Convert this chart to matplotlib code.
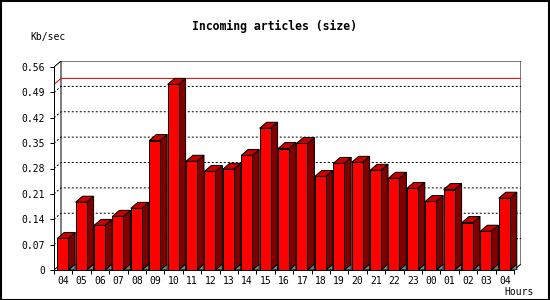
import numpy as np
import matplotlib.pyplot as plt
from matplotlib.patches import Polygon, Rectangle

hours = ["04", "05", "06", "07", "08", "09", "10", "11", "12", "13", "14", "15", "16",
         "17", "18", "19", "20", "21", "22", "23", "00", "01", "02", "03", "04"]
kbsec = [0.087, 0.187, 0.123, 0.148, 0.170, 0.357, 0.512, 0.300, 0.272, 0.278, 0.316,
         0.391, 0.335, 0.349, 0.258, 0.294, 0.297, 0.275, 0.253, 0.225, 0.189, 0.222,
         0.131, 0.107, 0.198]
yticks = [0, 0.07, 0.14, 0.21, 0.28, 0.35, 0.42, 0.49, 0.56]
ymax_line = 0.512

W, H = 550, 300
fig = plt.figure(figsize=(W / 100, H / 100), dpi=100)
fig.patch.set_facecolor("white")

# front plane 54..514 px, back plane shifted 7px right and 6px up
n = len(hours)
px_x = 460 / n
px_y = 203 / 0.56
ddx = 7 / px_x
ddy = 6 / px_y
ax = fig.add_axes([54 / W, 30 / H, 467 / W, 209 / H])
ax.set_xlim(0, n + ddx)
ax.set_ylim(0, 0.56 + ddy)
ax.patch.set_alpha(0)

lw = 0.72
mono = "DejaVu Sans Mono"

# grid lines (dotted) and back frame
for v in yticks[1:-1]:
    ax.plot([0, ddx, n + ddx], [v, v + ddy, v + ddy], color="black", lw=lw,
            dashes=(2, 2), zorder=1)
ax.plot([0, ddx, ddx], [0.56, 0.56 + ddy, ddy], color="black", lw=lw, zorder=1)
ax.plot([ddx, n + ddx, n + ddx, n], [0.56 + ddy, 0.56 + ddy, ddy, 0], color="black",
        lw=lw, zorder=1)
ax.plot([0, ddx], [0, ddy], color="black", lw=lw, zorder=1)
ax.plot([0, ddx, n + ddx], [ymax_line, ymax_line + ddy, ymax_line + ddy],
        color="#e00000", lw=lw, zorder=1.5)

# 3d bars
off = 3.2 / px_x
bw = 11 / px_x
for i, v in enumerate(kbsec):
    x0 = i + off
    x1 = x0 + bw
    z = 2 + i * 0.01
    ax.add_patch(Polygon([[x1, 0], [x1 + ddx, ddy], [x1 + ddx, 0]], closed=True,
                         facecolor="#808080", edgecolor="black", lw=lw, zorder=z))
    ax.add_patch(Polygon([[x1, 0], [x1 + ddx, ddy], [x1 + ddx, v + ddy], [x1, v]],
                         closed=True, facecolor="#800000", edgecolor="black", lw=lw, zorder=z))
    ax.add_patch(Polygon([[x0, v], [x0 + ddx, v + ddy], [x1 + ddx, v + ddy], [x1, v]],
                         closed=True, facecolor="#c80000", edgecolor="black", lw=lw, zorder=z))
    ax.add_patch(Rectangle((x0, 0), bw, v, facecolor="#ff0000", edgecolor="black",
                           lw=lw, zorder=z + 0.001))

for s in ["top", "right"]:
    ax.spines[s].set_visible(False)
ax.spines["left"].set_bounds(0, 0.56)
ax.spines["bottom"].set_bounds(0, n)
ax.spines["left"].set_linewidth(lw)
ax.spines["bottom"].set_linewidth(lw)
ax.spines["left"].set_zorder(5)
ax.spines["bottom"].set_zorder(5)

ax.set_yticks(yticks)
ax.set_yticklabels([("%g" % t) for t in yticks], family=mono, fontsize=7)
ax.set_xticks(np.arange(n + 1))
ax.set_xticklabels([])
ax.set_xticks(np.arange(n) + 0.5, minor=True)
ax.set_xticklabels(hours, minor=True, family=mono, fontsize=7)
ax.tick_params(axis="y", length=3, width=lw, pad=3.5)
ax.tick_params(axis="x", which="major", length=3, width=lw)
ax.tick_params(axis="x", which="minor", length=0, pad=4.5)

fig.text(274 / W, 1 - 26 / H, "Incoming articles (size)", family=mono, weight="bold",
         fontsize=8.3, ha="center", va="center")
fig.text(30 / W, 1 - 37 / H, "Kb/sec", family=mono, fontsize=7, ha="left", va="center")
fig.text(534 / W, 1 - 292 / H, "Hours", family=mono, fontsize=7, ha="right", va="center")

fig.patches.append(Rectangle((0.5 / W, 0.5 / H), 1 - 1.5 / W, 1 - 1.5 / H,
                             transform=fig.transFigure, fill=False,
                             edgecolor="black", lw=1.5))

fig.savefig("out.png", dpi=100)
